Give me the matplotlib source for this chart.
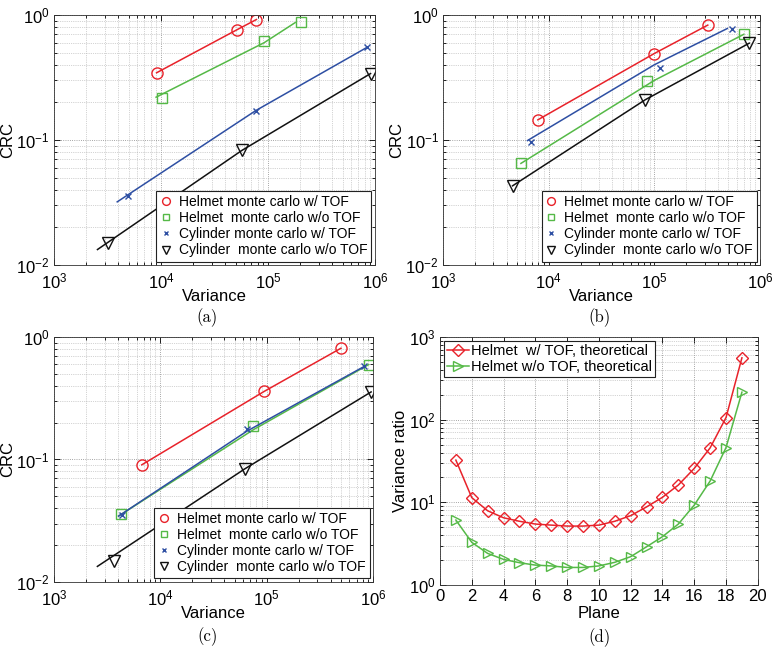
import numpy as np
import matplotlib.pyplot as plt
from matplotlib.ticker import LogLocator, NullFormatter

plt.rcParams['font.family'] = ['Liberation Sans', 'DejaVu Sans']
plt.rcParams['mathtext.fontset'] = 'custom'
plt.rcParams['mathtext.rm'] = 'Liberation Sans'
plt.rcParams['mathtext.it'] = 'Liberation Sans:italic'
plt.rcParams['mathtext.bf'] = 'Liberation Sans:bold'

RED = '#e8222a'
GREEN = '#55b947'
BLUE = '#2e4fa3'
BLACK = '#111111'

labels = ["Helmet monte carlo w/ TOF", "Helmet  monte carlo w/o TOF",
          "Cylinder monte carlo w/ TOF", "Cylinder  monte carlo w/o TOF"]

# panel (a): markers and fitted curves
a_mx = [[9.1e3, 5.1e4, 7.8e4], [1.03e4, 9.2e4, 2.03e5],
        [4.95e3, 7.7e4, 8.4e5], [3.2e3, 5.7e4, 9.1e5]]
a_my = [[0.345, 0.76, 0.92], [0.218, 0.62, 0.88],
        [0.0355, 0.172, 0.55], [0.0149, 0.0825, 0.34]]
a_lx = [[9.1e3, 5.1e4, 7.8e4], [9.0e3, 9.2e4, 1.8e5],
        [3.9e3, 7.7e4, 8.4e5], [2.55e3, 5.7e4, 9.1e5]]
a_ly = [[0.345, 0.76, 0.92], [0.22, 0.6, 0.87],
        [0.032, 0.172, 0.55], [0.0133, 0.0825, 0.34]]

# panel (b)
b_mx = [[7.9e3, 9.9e4, 3.2e5], [5.46e3, 8.5e4, 7.0e5],
        [6.75e3, 1.12e5, 5.46e5], [4.55e3, 8.2e4, 7.9e5]]
b_my = [[0.145, 0.49, 0.83], [0.065, 0.295, 0.70],
        [0.0965, 0.375, 0.77], [0.043, 0.21, 0.595]]
b_lx = [[7.9e3, 9.9e4, 3.2e5], [5.46e3, 1.0e5, 7.0e5],
        [6.3e3, 1.0e5, 4.9e5], [4.55e3, 8.2e4, 7.9e5]]
b_ly = [[0.145, 0.49, 0.83], [0.065, 0.3, 0.70],
        [0.099, 0.4, 0.78], [0.043, 0.21, 0.595]]

# panel (c)
c_mx = [[6.7e3, 9.5e4, 5.0e5], [4.26e3, 7.5e4, 9.1e5],
        [4.35e3, 6.5e4, 8.3e5], [3.68e3, 6.25e4, 9.6e5]]
c_my = [[0.0905, 0.36, 0.81], [0.036, 0.188, 0.595],
        [0.0355, 0.178, 0.576], [0.0148, 0.084, 0.356]]
c_lx = [[6.7e3, 9.5e4, 5.0e5], [4.05e3, 7.5e4, 9.1e5],
        [4.05e3, 6.5e4, 8.3e5], [2.56e3, 6.25e4, 9.6e5]]
c_ly = [[0.0905, 0.36, 0.81], [0.0345, 0.175, 0.595],
        [0.0345, 0.17, 0.576], [0.0134, 0.084, 0.356]]

# panel (d)
plane = list(range(1, 20))
d_tof = [32.4, 11.4, 7.9, 6.5, 5.9, 5.46, 5.3, 5.16, 5.16, 5.3, 5.9, 6.9,
         8.8, 11.5, 16.2, 25.7, 45.6, 106, 560]
d_notof = [6.1, 3.28, 2.41, 2.04, 1.86, 1.74, 1.70, 1.63, 1.63, 1.70, 1.88,
           2.2, 2.9, 3.84, 5.46, 9.26, 18.1, 46, 215]

colors = [RED, GREEN, BLUE, BLACK]
markers = ['o', 's', 'x', 'v']
msizes = [8, 6.5, 4.5, 8]

fig = plt.figure(figsize=(7.79, 6.55), dpi=100)
pos = [[0.0693, 0.5954, 0.412, 0.3817], [0.5687, 0.5954, 0.407, 0.3817],
       [0.0693, 0.1115, 0.4095, 0.374], [0.5648, 0.1069, 0.408, 0.3786]]


def style(ax):
    ax.grid(True, which='major', ls=':', color='#888888', lw=0.6)
    ax.grid(True, which='minor', ls=':', color='#aaaaaa', lw=0.5)
    ax.tick_params(which='both', direction='in', top=True, right=True,
                   labelsize=12, width=0.6)
    ax.tick_params(which='major', length=4)
    ax.tick_params(which='minor', length=2)
    ax.tick_params(axis='x', pad=5)
    ax.tick_params(axis='y', pad=3)
    for s in ax.spines.values():
        s.set_linewidth(0.6)
        s.set_color('#333333')


for k, (mx, my, lx, ly) in enumerate([(a_mx, a_my, a_lx, a_ly),
                                       (b_mx, b_my, b_lx, b_ly),
                                       (c_mx, c_my, c_lx, c_ly)]):
    ax = fig.add_axes(pos[k])
    for i in range(4):
        ax.plot(lx[i], ly[i], '-', color=colors[i], lw=1.1)
        ax.plot(mx[i], my[i], ls='none', marker=markers[i], ms=msizes[i],
                mfc='none', mec=colors[i], mew=1.0, label=labels[i])
    ax.set_xscale('log')
    ax.set_yscale('log')
    ax.set_xlim(1e3, 1e6)
    ax.set_ylim(1e-2, 1)
    ax.yaxis.set_minor_locator(LogLocator(subs=np.arange(2, 10)))
    ax.yaxis.set_minor_formatter(NullFormatter())
    ax.set_xlabel('Variance', fontsize=12, labelpad=-2)
    ax.set_ylabel('CRC', fontsize=12, labelpad=1)
    style(ax)
    leg = ax.legend(loc='lower right', fontsize=10,
                    markerscale=0.7, handlelength=0.8, handletextpad=0.5,
                    borderaxespad=0.25, labelspacing=0.15, borderpad=0.3,
                    fancybox=False, framealpha=1)
    leg.get_frame().set_edgecolor('#222222')
    leg.get_frame().set_linewidth(0.8)

ax = fig.add_axes(pos[3])
ax.plot(plane, d_tof, '-', color=RED, lw=1.1, marker='D', ms=6,
        mfc='none', mec=RED, mew=1.0, label='Helmet  w/ TOF, theoretical')
ax.plot(plane, d_notof, '-', color=GREEN, lw=1.1, marker='>', ms=7,
        mfc='none', mec=GREEN, mew=1.0, label='Helmet w/o TOF, theoretical')
ax.set_yscale('log')
ax.set_xlim(0, 20)
ax.set_ylim(1, 1e3)
ax.set_xticks(range(0, 21, 2))
ax.yaxis.set_minor_locator(LogLocator(subs=np.arange(2, 10)))
ax.yaxis.set_minor_formatter(NullFormatter())
ax.set_xlabel('Plane', fontsize=12, labelpad=1)
ax.set_ylabel('Variance ratio', fontsize=12, labelpad=1)
style(ax)
ax.tick_params(axis='x', pad=3)
ax.grid(False, which='minor', axis='x')
leg = ax.legend(loc='upper left', fontsize=10.5, handlelength=1.5,
                handletextpad=0.1, borderaxespad=0.25, labelspacing=0.1,
                borderpad=0.25, fancybox=False, framealpha=1)
leg.get_frame().set_edgecolor('#222222')
leg.get_frame().set_linewidth(0.8)

for cap, x, y in [('(a)', 207, 318), ('(b)', 600, 318),
                  ('(c)', 208, 637), ('(d)', 600, 638)]:
    fig.text(x / 779, 1 - y / 655, cap, fontsize=12, family='cmr10',
             ha='center', va='center')

fig.savefig('out.png', dpi=100)
